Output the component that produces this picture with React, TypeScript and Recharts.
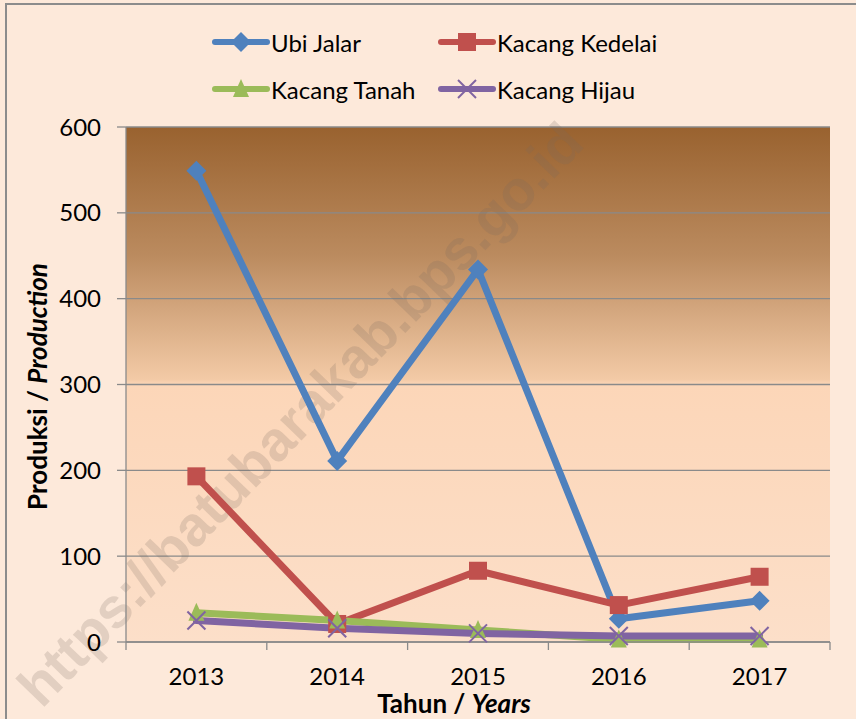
import React from 'react';
import { LineChart, Line, XAxis, YAxis, CartesianGrid, Legend } from 'recharts';

const years = ['2013', '2014', '2015', '2016', '2017'];
const ubiJalar = [549, 211, 434, 27, 48];
const kacangKedelai = [193, 21, 83, 43, 76];
const kacangTanah = [34, 25, 14, 3, 3];
const kacangHijau = [25, 16, 10, 7, 7];
const yTicks = [0, 100, 200, 300, 400, 500, 600];

const FONT = 'Lato, "Open Sans", sans-serif';

const data = years.map((year, i) => ({
  year,
  x: i + 0.5,
  ubi: ubiJalar[i],
  kedelai: kacangKedelai[i],
  tanah: kacangTanah[i],
  hijau: kacangHijau[i],
}));

const boundaryTicks = years.map((_, i) => i).concat(years.length);
const centerTicks = years.map((_, i) => i + 0.5);

type Marker = 'diamond' | 'square' | 'triangle' | 'cross';

const series: { key: string; name: string; color: string; marker: Marker }[] = [
  { key: 'ubi', name: 'Ubi Jalar', color: '#4f81bd', marker: 'diamond' },
  { key: 'kedelai', name: 'Kacang Kedelai', color: '#c0504d', marker: 'square' },
  { key: 'tanah', name: 'Kacang Tanah', color: '#9bbb59', marker: 'triangle' },
  { key: 'hijau', name: 'Kacang Hijau', color: '#8064a2', marker: 'cross' },
];

function markerShape(marker: Marker, cx: number, cy: number, color: string, k?: string | number) {
  if (marker === 'diamond') {
    const r = 10;
    return <path key={k} d={`M${cx},${cy - r}L${cx + r},${cy}L${cx},${cy + r}L${cx - r},${cy}Z`} fill={color} />;
  }
  if (marker === 'square') {
    return <rect key={k} x={cx - 9} y={cy - 9} width={18} height={18} fill={color} />;
  }
  if (marker === 'triangle') {
    return <path key={k} d={`M${cx},${cy - 10}L${cx + 8},${cy + 8}L${cx - 8},${cy + 8}Z`} fill={color} />;
  }
  return (
    <g key={k} stroke={color} strokeWidth={2}>
      <line x1={cx - 9} y1={cy - 9} x2={cx + 9} y2={cy + 9} />
      <line x1={cx - 9} y1={cy + 9} x2={cx + 9} y2={cy - 9} />
    </g>
  );
}

const legendPos = [
  { left: 212, top: 24 },
  { left: 438, top: 24 },
  { left: 212, top: 71 },
  { left: 438, top: 71 },
];

const renderLegend = () => (
  <div style={{ position: 'relative', width: 856, height: 115, fontFamily: FONT, fontSize: 24, color: '#000' }}>
    {series.map((s, i) => (
      <div key={s.key} style={{ position: 'absolute', left: legendPos[i].left, top: legendPos[i].top, display: 'flex', alignItems: 'center', height: 36 }}>
        <svg width={58} height={24}>
          <line x1={3} y1={12} x2={55} y2={12} stroke={s.color} strokeWidth={6} strokeLinecap="round" />
          {markerShape(s.marker, 29, 12, s.color)}
        </svg>
        <span style={{ marginLeft: 1, whiteSpace: 'nowrap' }}>{s.name}</span>
      </div>
    ))}
  </div>
);

const YTitle = (props: any) => {
  const vb = props.viewBox;
  const cx = vb.x + 31;
  const cy = vb.y + vb.height / 2 + 2;
  return (
    <text x={cx} y={cy} transform={`rotate(-90, ${cx}, ${cy})`} textAnchor="middle" dominantBaseline="central"
      fontFamily={FONT} fontSize={26} fontWeight="bold" fill="#000">
      <tspan>Produksi / </tspan>
      <tspan fontStyle="italic">Production</tspan>
    </text>
  );
};

const XTitle = (props: any) => {
  const vb = props.viewBox;
  const cx = vb.x + vb.width / 2 - 24;
  return (
    <text x={cx} y={713} textAnchor="middle" fontFamily={FONT} fontSize={26} fontWeight="bold" fill="#000">
      <tspan>Tahun / </tspan>
      <tspan fontStyle="italic">Years</tspan>
    </text>
  );
};

export default function App() {
  return (
    <div style={{ position: 'relative', width: 856, height: 719, background: '#fde9da', overflow: 'hidden' }}>
      <style>{'body{margin:0}'}</style>
      <div style={{ position: 'absolute', left: 5, top: 3, width: 900, height: 800, borderLeft: '2px solid #8c8c8c', borderTop: '2px solid #8c8c8c' }} />
      <div style={{ position: 'absolute', left: 0, top: 0 }}>
        <LineChart width={856} height={719} data={data} margin={{ top: 127, right: 26, left: 6, bottom: 0 }}>
          <defs>
            <linearGradient id="plotBg" x1="0" y1="0" x2="0" y2="1">
              <stop offset="0" stopColor="#99622f" />
              <stop offset="0.25" stopColor="#bb8b5f" />
              <stop offset="0.49" stopColor="#f3caa6" />
              <stop offset="0.5" stopColor="#fcd6b8" />
              <stop offset="1" stopColor="#fcdfc9" />
            </linearGradient>
          </defs>
          <CartesianGrid vertical={false} stroke="#8a8a8a" strokeWidth={1.3} fill="url(#plotBg)" fillOpacity={1} />
          <XAxis xAxisId={0} dataKey="x" type="number" domain={[0, years.length]} ticks={boundaryTicks}
            tickFormatter={() => ''} tickSize={8} tickMargin={0} height={8} stroke="#8a8a8a" strokeWidth={1.3}
            interval={0} tick={{ fontSize: 1 }} />
          <XAxis xAxisId={1} dataKey="x" type="number" domain={[0, years.length]} ticks={centerTicks}
            tickFormatter={(v: number) => years[Math.floor(v)]} axisLine={false} tickLine={false} tickSize={0}
            tickMargin={18} height={69} interval={0} stroke="none"
            tick={{ fontFamily: FONT, fontSize: 24, fill: '#000' }} label={<XTitle />} />
          <YAxis type="number" domain={[0, 600]} ticks={yTicks} width={120} tickSize={9} tickMargin={16}
            stroke="#8a8a8a" strokeWidth={1.3} interval={0}
            tick={{ fontFamily: FONT, fontSize: 24, fill: '#000' }} label={<YTitle />} />
          <Legend layout="horizontal" verticalAlign="middle" align="center" content={renderLegend}
            wrapperStyle={{ top: 0, left: 0, width: 856, height: 115 }} />
          {series.map((s) => (
            <Line key={s.key} xAxisId={0} dataKey={s.key} name={s.name} stroke={s.color} strokeWidth={7}
              strokeLinejoin="round" strokeLinecap="round" isAnimationActive={false}
              dot={(p: any) => markerShape(s.marker, p.cx, p.cy, s.color, `${s.key}-${p.index}`)}
              activeDot={false} />
          ))}
          <text x={300} y={414} transform="rotate(-46, 300, 414)" textAnchor="middle" dominantBaseline="central"
            fontFamily='"Liberation Sans", Arial, sans-serif' fontWeight="bold" fontSize={56}
            fill="#7a6a60" fillOpacity={0.2}>
            https://batubarakab.bps.go.id
          </text>
        </LineChart>
      </div>
    </div>
  );
}
